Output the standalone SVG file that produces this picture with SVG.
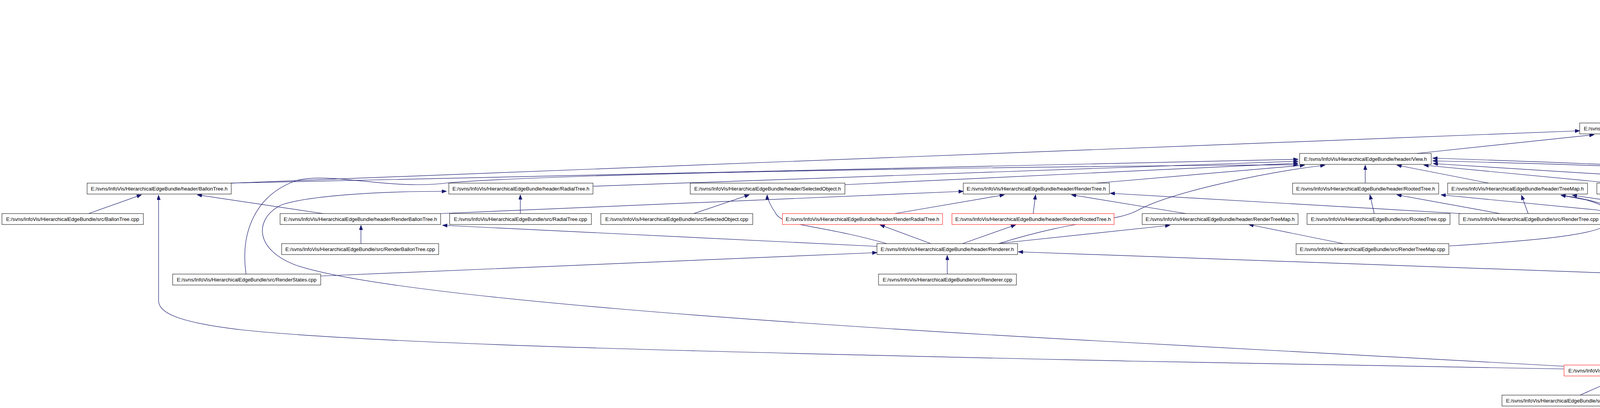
<svg xmlns="http://www.w3.org/2000/svg" width="6241" height="1045" viewBox="0 0 6241 1045">
<style>
.n rect{fill:#ffffff;stroke:#000000;stroke-width:1}
.n.red rect{stroke:#ff0000}
.n.root rect{fill:#bfbfbf}
.n text{font-family:"Liberation Sans",Arial,sans-serif;font-size:13px;text-anchor:middle;fill:#000000}
#edges path{fill:none;stroke:#191970;stroke-width:1.2;marker-end:url(#ah)}
</style>
<defs>
<marker id="ah" markerUnits="userSpaceOnUse" markerWidth="13" markerHeight="10" refX="12" refY="4.5" orient="auto">
<path d="M0,0 L12,4.5 L0,9 z" fill="#191970" stroke="#191970" stroke-width="1"/>
</marker>
</defs>
<rect width="6241" height="1045" fill="#ffffff"/>
<g id="edges">
<path d="M4538,82 L4876,35"/>
<path d="M4985,82 L4985,35"/>
<path d="M5299,82 L5058,35"/>
<path d="M4360,160 L4409,112"/>
<path d="M4655,160 L4485,112"/>
<path d="M5059,160 L5008,112"/>
<path d="M4184,315 C4110,230 4110,150 4315,112"/>
<path d="M4412,237 L4638,190"/>
<path d="M4727,237 L4712,190"/>
<path d="M5039,237 L4785,190"/>
<path d="M4240,315 L4316,267"/>
<path d="M4557,315 L4396,267"/>
<path d="M4379,315 L4946,267"/>
<path d="M5113,315 L5113,267"/>
<path d="M4973,393 L4392,345"/>
<path d="M3627,393 L4081,345"/>
<path d="M5319,780 C5050,690 4936,640 4936,560 L4936,485 C4930,450 4800,410 4600,380 L4349,345"/>
<path d="M592,469 L4044,335"/>
<path d="M592,469 L3323,408"/>
<path d="M1518,477 L3323,413"/>
<path d="M2163,473 L3323,418"/>
<path d="M630,702 C615,600 650,500 760,462 C850,440 1000,488 1150,468 C1500,440 2800,425 3323,422"/>
<path d="M2807,469 L3340,423"/>
<path d="M2556,624 C2760,560 2850,570 2910,540 C3000,490 3250,440 3392,423"/>
<path d="M3495,469 L3495,423"/>
<path d="M3811,469 L3576,423"/>
<path d="M4127,469 L3645,423"/>
<path d="M4470,469 L3669,419"/>
<path d="M4590,702 C4700,640 4830,560 4830,510 C4830,482 4815,470 4790,465 C4600,440 4200,423 3668,405"/>
<path d="M4885,780 L4885,560 C4885,500 4860,475 4820,467 C4600,443 4200,425 3668,412"/>
<path d="M227,547 L362,499"/>
<path d="M827,547 L505,499"/>
<path d="M4003,945 L2900,925 C2000,905 1000,885 620,845 C450,825 406,800 406,770 L406,500"/>
<path d="M4003,938 L2900,878 C2000,830 1000,760 760,680 C650,640 650,560 720,525 C800,498 1000,490 1143,490"/>
<path d="M1332,547 L1332,499"/>
<path d="M924,624 L924,577"/>
<path d="M1128,547 L2466,490"/>
<path d="M2245,631 L1133,577"/>
<path d="M821,707 L2245,647"/>
<path d="M2425,702 L2425,654"/>
<path d="M4333,707 L2607,645"/>
<path d="M2270,624 C2100,575 2000,580 1985,545 C1968,520 1964,505 1964,499"/>
<path d="M1776,547 L1918,499"/>
<path d="M2383,624 L2253,576"/>
<path d="M2464,624 L2600,576"/>
<path d="M2561,623 L2995,577"/>
<path d="M2291,547 L2571,499"/>
<path d="M2645,547 L2651,499"/>
<path d="M3036,547 L2743,499"/>
<path d="M3740,547 L2842,495"/>
<path d="M3518,547 L3507,499"/>
<path d="M3840,547 L3576,499"/>
<path d="M4184,935 C4150,880 4140,840 4140,790 L4140,600 C4140,560 4120,545 4090,538 L3689,499"/>
<path d="M4199,935 C4215,860 4225,720 4200,650 C4180,590 4160,550 4120,530 C4080,512 4030,505 3996,500"/>
<path d="M3912,547 L3895,500"/>
<path d="M4345,547 L4025,500"/>
<path d="M3710,630 C3950,615 4100,600 4120,570 C4135,545 4110,525 4060,512 L3996,500"/>
<path d="M3439,624 L3197,575"/>
<path d="M4467,780 L4530,731"/>
<path d="M4823,780 L4621,731"/>
<path d="M4512,857 L4793,809"/>
<path d="M4852,857 L4875,809"/>
<path d="M5302,857 L5432,809"/>
<path d="M5632,857 L5516,809"/>
<path d="M5953,857 L5590,809"/>
<path d="M4312,935 L4724,886"/>
<path d="M4387,938 L5059,886"/>
<path d="M4387,945 L5472,886"/>
<path d="M4045,1012 L4154,964"/>
<path d="M4348,1012 L4233,964"/>
</g>
<g id="n0" class="n root"><rect x="4802" y="5" width="367" height="28"/><text x="4985.5" y="24">E:/svns/InfoVis/HierarchicalEdgeBundle/header/GUIVertex.h</text></g>
<g id="n1" class="n"><rect x="4257" y="82" width="349" height="28"/><text x="4431.5" y="101">E:/svns/InfoVis/HierarchicalEdgeBundle/header/Vertex.h</text></g>
<g id="n2" class="n"><rect x="4806" y="82" width="359" height="28"/><text x="4985.5" y="101">E:/svns/InfoVis/HierarchicalEdgeBundle/header/GUIEdge.h</text></g>
<g id="n3" class="n"><rect x="5171" y="82" width="377" height="28"/><text x="5359.5" y="101">E:/svns/InfoVis/HierarchicalEdgeBundle/src/GUIVertex.cpp</text></g>
<g id="n4" class="n"><rect x="4174" y="160" width="339" height="28"/><text x="4343.5" y="179">E:/svns/InfoVis/HierarchicalEdgeBundle/src/Vertex.cpp</text></g>
<g id="n5" class="n"><rect x="4537" y="160" width="339" height="28"/><text x="4706.5" y="179">E:/svns/InfoVis/HierarchicalEdgeBundle/header/Edge.h</text></g>
<g id="n6" class="n"><rect x="4899" y="160" width="353" height="28"/><text x="5075.5" y="179">E:/svns/InfoVis/HierarchicalEdgeBundle/src/GUIEdge.cpp</text></g>
<g id="n7" class="n"><rect x="4150" y="237" width="393" height="28"/><text x="4346.5" y="256">E:/svns/InfoVis/HierarchicalEdgeBundle/header/HierarchyEdge.h</text></g>
<g id="n8" class="n"><rect x="4566" y="237" width="330" height="28"/><text x="4731" y="256">E:/svns/InfoVis/HierarchicalEdgeBundle/src/Edge.cpp</text></g>
<g id="n9" class="n"><rect x="4920" y="237" width="385" height="28"/><text x="5112.5" y="256">E:/svns/InfoVis/HierarchicalEdgeBundle/header/RelationEdge.h</text></g>
<g id="n10" class="n"><rect x="4044" y="315" width="345" height="28"/><text x="4216.5" y="334">E:/svns/InfoVis/HierarchicalEdgeBundle/header/Graph.h</text></g>
<g id="n11" class="n"><rect x="4410" y="315" width="386" height="28"/><text x="4603" y="334">E:/svns/InfoVis/HierarchicalEdgeBundle/src/HierarchyEdge.cpp</text></g>
<g id="n12" class="n"><rect x="4924" y="315" width="378" height="28"/><text x="5113" y="334">E:/svns/InfoVis/HierarchicalEdgeBundle/src/RelationEdge.cpp</text></g>
<g id="n13" class="n"><rect x="3327" y="393" width="337" height="28"/><text x="3495.5" y="412">E:/svns/InfoVis/HierarchicalEdgeBundle/header/View.h</text></g>
<g id="n14" class="n"><rect x="4973" y="393" width="336" height="28"/><text x="5141" y="412">E:/svns/InfoVis/HierarchicalEdgeBundle/src/Graph.cpp</text></g>
<g id="n15" class="n"><rect x="223" y="469" width="369" height="28"/><text x="407.5" y="488">E:/svns/InfoVis/HierarchicalEdgeBundle/header/BallonTree.h</text></g>
<g id="n16" class="n"><rect x="1149" y="469" width="369" height="28"/><text x="1333.5" y="488">E:/svns/InfoVis/HierarchicalEdgeBundle/header/RadialTree.h</text></g>
<g id="n17" class="n"><rect x="1767" y="469" width="396" height="28"/><text x="1965" y="488">E:/svns/InfoVis/HierarchicalEdgeBundle/header/SelectedObject.h</text></g>
<g id="n18" class="n"><rect x="2466" y="469" width="374" height="28"/><text x="2653" y="488">E:/svns/InfoVis/HierarchicalEdgeBundle/header/RenderTree.h</text></g>
<g id="n19" class="n"><rect x="3309" y="469" width="374" height="28"/><text x="3496" y="488">E:/svns/InfoVis/HierarchicalEdgeBundle/header/RootedTree.h</text></g>
<g id="n20" class="n"><rect x="3706" y="469" width="358" height="28"/><text x="3885" y="488">E:/svns/InfoVis/HierarchicalEdgeBundle/header/TreeMap.h</text></g>
<g id="n21" class="n"><rect x="4088" y="469" width="358" height="28"/><text x="4267" y="488">E:/svns/InfoVis/HierarchicalEdgeBundle/src/SplineSet.cpp</text></g>
<g id="n22" class="n"><rect x="4468" y="469" width="330" height="28"/><text x="4633" y="488">E:/svns/InfoVis/HierarchicalEdgeBundle/src/View.cpp</text></g>
<g id="n23" class="n"><rect x="5" y="547" width="362" height="28"/><text x="186" y="566">E:/svns/InfoVis/HierarchicalEdgeBundle/src/BallonTree.cpp</text></g>
<g id="n24" class="n"><rect x="717" y="547" width="411" height="28"/><text x="922.5" y="566">E:/svns/InfoVis/HierarchicalEdgeBundle/header/RenderBallonTree.h</text></g>
<g id="n25" class="n"><rect x="1151" y="547" width="363" height="28"/><text x="1332.5" y="566">E:/svns/InfoVis/HierarchicalEdgeBundle/src/RadialTree.cpp</text></g>
<g id="n26" class="n"><rect x="1538" y="547" width="389" height="28"/><text x="1732.5" y="566">E:/svns/InfoVis/HierarchicalEdgeBundle/src/SelectedObject.cpp</text></g>
<g id="n27" class="n red"><rect x="2003" y="547" width="410" height="28"/><text x="2208" y="566">E:/svns/InfoVis/HierarchicalEdgeBundle/header/RenderRadialTree.h</text></g>
<g id="n28" class="n red"><rect x="2437" y="547" width="415" height="28"/><text x="2644.5" y="566">E:/svns/InfoVis/HierarchicalEdgeBundle/header/RenderRootedTree.h</text></g>
<g id="n29" class="n"><rect x="2924" y="547" width="399" height="28"/><text x="3123.5" y="566">E:/svns/InfoVis/HierarchicalEdgeBundle/header/RenderTreeMap.h</text></g>
<g id="n30" class="n"><rect x="3346" y="547" width="366" height="28"/><text x="3529" y="566">E:/svns/InfoVis/HierarchicalEdgeBundle/src/RootedTree.cpp</text></g>
<g id="n31" class="n"><rect x="3735" y="547" width="367" height="28"/><text x="3918.5" y="566">E:/svns/InfoVis/HierarchicalEdgeBundle/src/RenderTree.cpp</text></g>
<g id="n32" class="n"><rect x="4277" y="547" width="348" height="28"/><text x="4451" y="566">E:/svns/InfoVis/HierarchicalEdgeBundle/src/TreeMap.cpp</text></g>
<g id="n33" class="n"><rect x="721" y="624" width="402" height="28"/><text x="922" y="643">E:/svns/InfoVis/HierarchicalEdgeBundle/src/RenderBallonTree.cpp</text></g>
<g id="n34" class="n"><rect x="2245" y="624" width="360" height="28"/><text x="2425" y="643">E:/svns/InfoVis/HierarchicalEdgeBundle/header/Renderer.h</text></g>
<g id="n35" class="n"><rect x="3318" y="624" width="391" height="28"/><text x="3513.5" y="643">E:/svns/InfoVis/HierarchicalEdgeBundle/src/RenderTreeMap.cpp</text></g>
<g id="n36" class="n"><rect x="442" y="702" width="379" height="28"/><text x="631.5" y="721">E:/svns/InfoVis/HierarchicalEdgeBundle/src/RenderStates.cpp</text></g>
<g id="n37" class="n"><rect x="2249" y="702" width="353" height="28"/><text x="2425.5" y="721">E:/svns/InfoVis/HierarchicalEdgeBundle/src/Renderer.cpp</text></g>
<g id="n38" class="n"><rect x="4333" y="702" width="437" height="28"/><text x="4551.5" y="721">E:/svns/InfoVis/HierarchicalEdgeBundle/header/RenderImplementation.h</text></g>
<g id="n39" class="n"><rect x="4232" y="780" width="431" height="28"/><text x="4447.5" y="799">E:/svns/InfoVis/HierarchicalEdgeBundle/src/RenderImplementation.cpp</text></g>
<g id="n40" class="n"><rect x="4687" y="780" width="396" height="28"/><text x="4885" y="799">E:/svns/InfoVis/HierarchicalEdgeBundle/header/OpenGLWidget.h</text></g>
<g id="n41" class="n"><rect x="5298" y="780" width="358" height="28"/><text x="5477" y="799">E:/svns/InfoVis/HierarchicalEdgeBundle/header/ReadFile.h</text></g>
<g id="n42" class="n"><rect x="4232" y="857" width="391" height="28"/><text x="4427.5" y="876">E:/svns/InfoVis/HierarchicalEdgeBundle/src/OpenGLWidget.cpp</text></g>
<g id="n43" class="n"><rect x="4645" y="857" width="399" height="28"/><text x="4844.5" y="876">E:/svns/InfoVis/HierarchicalEdgeBundle/header/ui_mainWindow.h</text></g>
<g id="n44" class="n red"><rect x="5067" y="857" width="388" height="28"/><text x="5261" y="876">E:/svns/InfoVis/HierarchicalEdgeBundle/header/LoadXMLTree.h</text></g>
<g id="n45" class="n red"><rect x="5477" y="857" width="383" height="28"/><text x="5668.5" y="876">E:/svns/InfoVis/HierarchicalEdgeBundle/header/ReadRTFFile.h</text></g>
<g id="n46" class="n"><rect x="5884" y="857" width="351" height="28"/><text x="6059.5" y="876">E:/svns/InfoVis/HierarchicalEdgeBundle/src/ReadFile.cpp</text></g>
<g id="n47" class="n red"><rect x="4004" y="935" width="383" height="28"/><text x="4195.5" y="954">E:/svns/InfoVis/HierarchicalEdgeBundle/header/MainWindow.h</text></g>
<g id="n48" class="n"><rect x="3845" y="1012" width="327" height="28"/><text x="4008.5" y="1031">E:/svns/InfoVis/HierarchicalEdgeBundle/src/main.cpp</text></g>
<g id="n49" class="n"><rect x="4197" y="1012" width="373" height="28"/><text x="4383.5" y="1031">E:/svns/InfoVis/HierarchicalEdgeBundle/src/MainWindow.cpp</text></g>
</svg>
